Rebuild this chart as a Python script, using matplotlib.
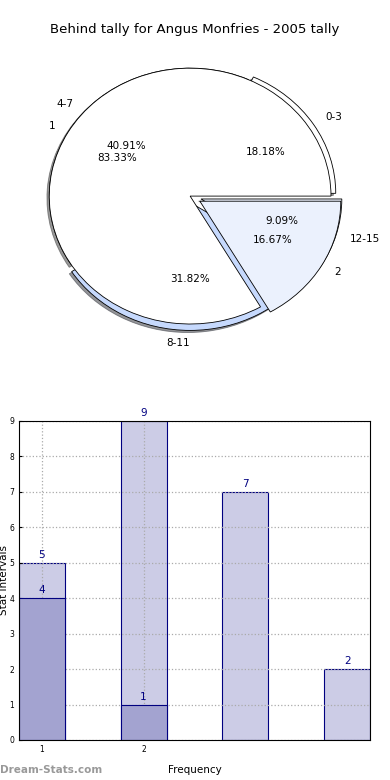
import matplotlib
matplotlib.use('Agg')
import matplotlib.pyplot as plt

# data -----------------------------------------------------------------------
title = 'Behind tally for Angus Monfries - 2005 tally'
tally_labels = ['0-3', '4-7', '8-11', '12-15']
tally_values = [4, 9, 7, 2]
freq_labels = ['1', '2']
freq_values = [5, 1]

bar_light = [5, 9, 7, 2]
bar_dark = [4, 1]
bar_pos = [1, 2, 3, 4]
xtick_pos = [1, 2]
xtick_labels = ['1', '2']

# figure ---------------------------------------------------------------------
fig = plt.figure(figsize=(3.9, 7.8), dpi=100)
fig.text(0.5, 0.962, title, ha='center', va='center', fontsize=9.5)

# pie ------------------------------------------------------------------------
ax1 = fig.add_axes([0.036, 0.5436, 0.903, 0.41])
shadow = {'ox': -0.012, 'oy': -0.012, 'shade': 0.8}
wp = {'edgecolor': 'black', 'linewidth': 0.6}
w1, t1, p1 = ax1.pie(tally_values, labels=tally_labels, autopct='%.2f%%',
                     explode=(0.04, 0, 0.05, 0.08), shadow=shadow,
                     colors=['white', 'white', '#c6d9fd', '#ebf1fd'],
                     wedgeprops=wp, textprops={'fontsize': 7.5},
                     labeldistance=1.1, pctdistance=0.6)
t1[2].set_ha('right')
ax1.pie(freq_values, labels=freq_labels, autopct='%.2f%%',
        explode=(0, 0.08), shadow=False,
        colors=['white', '#ebf1fd'],
        wedgeprops=wp, textprops={'fontsize': 7.5},
        labeldistance=1.1, pctdistance=0.6)
ax1.set_aspect('auto')
ax1.set_xlim(-1.25, 1.25)
ax1.set_ylim(-1.25, 1.25)

# bars -----------------------------------------------------------------------
ax2 = fig.add_axes([0.0487, 0.0513, 0.9, 0.409])
ax2.bar(bar_pos, bar_light, width=0.45, color='#ccccE6',
        edgecolor='#000080', linewidth=0.8, zorder=2)
ax2.bar(bar_pos[:len(bar_dark)], bar_dark, width=0.45, color='#a3a3d0',
        edgecolor='#000080', linewidth=0.8, zorder=3)
for x, v in zip(bar_pos, bar_light):
    ax2.text(x, v + 0.08, str(v), ha='center', va='bottom', fontsize=7.5, color='#000080', zorder=5)
for x, v in zip(bar_pos, bar_dark):
    ax2.text(x, v + 0.08, str(v), ha='center', va='bottom', fontsize=7.5, color='#000080', zorder=5)
ax2.set_xlim(0.775, 4.225)
ax2.set_ylim(0, 9)
ax2.set_xticks(xtick_pos)
ax2.set_xticklabels(xtick_labels)
ax2.set_yticks(range(10))
ax2.tick_params(labelsize=5.5, length=2, direction='in')
ax2.set_axisbelow(False)
ax2.grid(True, linestyle=':', color='#aaaaaa', linewidth=0.9, zorder=4)
for s in ax2.spines.values():
    s.set_zorder(6)
ax2.set_xlabel('Frequency', fontsize=7.5, labelpad=8)
ax2.set_ylabel('Stat Intervals', fontsize=7.5)
ax2.yaxis.set_label_coords(-0.028, 0.5)

fig.text(0.0, 0.013, 'Dream-Stats.com', fontsize=7.5, color='#999999', fontweight='bold', va='center')

fig.savefig('out.png', dpi=100)
